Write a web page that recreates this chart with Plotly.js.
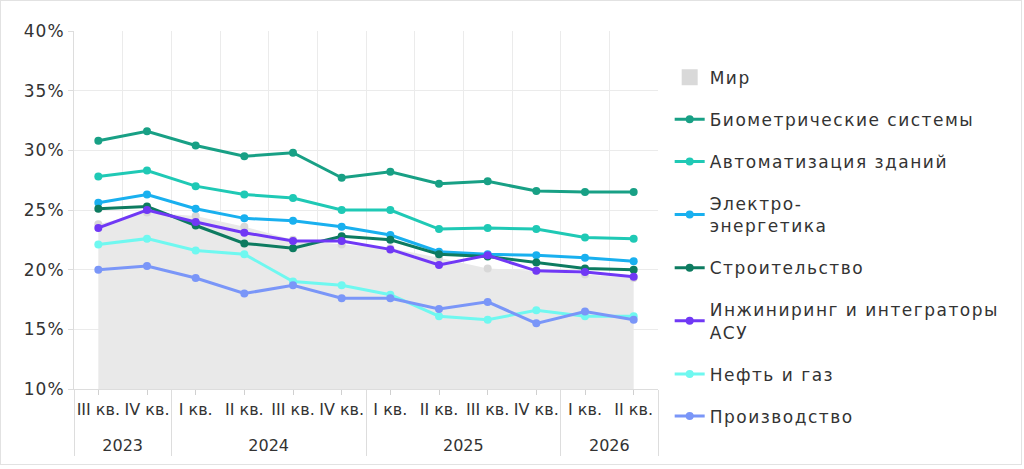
<!DOCTYPE html>
<html>
<head>
<meta charset="utf-8">
<script src="https://cdn.plot.ly/plotly-3.0.1.min.js"></script>
<style>
html, body { margin: 0; padding: 0; background: #ffffff; }
#chart { width: 1024px; height: 469px; position: absolute; left: 0; top: 0; }
#frame { position: absolute; left: 0; top: 0; width: 1020px; height: 463px; border: 1px solid #e2e2e2; pointer-events: none; }
.legendtext { letter-spacing: 1.5px; }
.ytick text { letter-spacing: 1px; }
</style>
</head>
<body>
<div id="chart"></div>
<div id="frame"></div>
<script>
// Category axes (2023 quarters carry a zero-width space so that the
// multicategory axis keeps the I..IV order inside later years)
var years = ['2023','2023','2024','2024','2024','2024','2025','2025','2025','2025','2026','2026'];
var quarters = ['III кв.\u200b','IV кв.\u200b','I кв.','II кв.','III кв.','IV кв.','I кв.','II кв.','III кв.','IV кв.','I кв.','II кв.'];

// Series (percent)
var world         = [23.8, 24.8, 24.5, 23.6, 22.5, 22.1, 21.8, 21.0, 20.1, 19.9, 19.6, 19.3];
var biometric     = [30.8, 31.6, 30.4, 29.5, 29.8, 27.7, 28.2, 27.2, 27.4, 26.6, 26.5, 26.5];
var buildingAuto  = [27.8, 28.3, 27.0, 26.3, 26.0, 25.0, 25.0, 23.4, 23.5, 23.4, 22.7, 22.6];
var power         = [25.6, 26.3, 25.1, 24.3, 24.1, 23.6, 22.9, 21.5, 21.3, 21.2, 21.0, 20.7];
var construction  = [25.1, 25.3, 23.7, 22.2, 21.8, 22.8, 22.5, 21.3, 21.1, 20.6, 20.1, 20.0];
var engineering   = [23.5, 25.0, 24.0, 23.1, 22.4, 22.4, 21.7, 20.4, 21.2, 19.9, 19.8, 19.4];
var oilGas        = [22.1, 22.6, 21.6, 21.3, 19.0, 18.7, 17.9, 16.1, 15.8, 16.6, 16.1, 16.1];
var manufacturing = [20.0, 20.3, 19.3, 18.0, 18.7, 17.6, 17.6, 16.7, 17.3, 15.5, 16.5, 15.8];

var seriesNames = ['Биометрические системы', 'Автоматизация зданий', 'Электро-<br>энергетика',
  'Строительство', 'Инжиниринг и интеграторы<br>АСУ', 'Нефть и газ', 'Производство'];
var seriesValues = [biometric, buildingAuto, power, construction, engineering, oilGas, manufacturing];
var seriesColors = ['#18a085', '#1fc9b5', '#19b0ef', '#0d7b60', '#7038f5', '#6ff8f0', '#7a96f8'];

// year row is pushed one line lower (blank first line)
var yearLabels = years.map(function (y) { return '\u00a0<br>' + y; });
var xCats = [yearLabels, quarters];
var traces = [];

// World: filled area (no legend), gray points, legend square
traces.push({
  type: 'scatter', x: xCats, y: world, mode: 'none', fill: 'tozeroy',
  fillcolor: '#e9e9e9', showlegend: false, legendgroup: 'g0', hoverinfo: 'skip'
});
traces.push({
  type: 'scatter', x: xCats, y: world, mode: 'markers',
  marker: { color: '#d8d8d8', size: 8 }, showlegend: false, legendgroup: 'g0', name: 'Мир'
});
traces.push({
  type: 'scatter', x: [[null],[null]], y: [null], mode: 'markers', name: 'Мир',
  marker: { symbol: 'square', color: '#d9d9d9', size: 16 }, legendgroup: 'g0', showlegend: true
});

for (var i = 0; i < seriesNames.length; i++) {
  traces.push({
    type: 'scatter', x: xCats, y: seriesValues[i], mode: 'lines+markers',
    name: seriesNames[i], legendgroup: 'g' + (i + 1),
    line: { color: seriesColors[i], width: 3 },
    marker: { color: seriesColors[i], size: 8 }
  });
}

// invisible trace for centre ticks
traces.push({
  type: 'scatter', x: xCats, y: world, mode: 'markers', xaxis: 'x2',
  marker: { opacity: 0 }, showlegend: false, hoverinfo: 'skip'
});

var fontFam = 'DejaVu Sans, sans-serif';
var layout = {
  width: 1024, height: 469,
  margin: { l: 74, r: 366, t: 31, b: 80 },
  paper_bgcolor: '#ffffff', plot_bgcolor: '#ffffff',
  font: { family: fontFam, size: 16, color: '#333333' },
  showlegend: true,
  legend: {
    x: 1.02, xanchor: 'left', y: 0.92, yanchor: 'top', maxheight: 440,
    font: { family: fontFam, size: 17, color: '#333333' },
    tracegroupgap: 17, bgcolor: 'rgba(0,0,0,0)'
  },
  xaxis: {
    type: 'multicategory', range: [-0.5, 11.5],
    showgrid: true, gridcolor: '#ebebeb', gridwidth: 1,
    tickson: 'boundaries', ticks: '', tickangle: 0, ticklabelstandoff: 6,
    showline: true, linecolor: '#dddddd', linewidth: 1,
    showdividers: true, dividercolor: '#dddddd', dividerwidth: 1,
    tickfont: { family: fontFam, size: 16, color: '#333333' },
    zeroline: false
  },
  xaxis2: {
    type: 'multicategory', overlaying: 'x', anchor: 'y', side: 'bottom',
    range: [-0.5, 11.5], showticklabels: false, showgrid: false,
    showdividers: false, showline: false,
    ticks: 'outside', ticklen: 5, tickcolor: '#d0d0d0', tickson: 'labels', zeroline: false
  },
  yaxis: {
    range: [10, 40], dtick: 5, tick0: 10, ticksuffix: '%',
    showgrid: true, gridcolor: '#ebebeb', gridwidth: 1,
    showline: true, linecolor: '#dddddd', linewidth: 1,
    ticks: 'outside', ticklen: 5, tickcolor: '#dddddd',
    tickfont: { family: fontFam, size: 17, color: '#333333' },
    zeroline: false
  }
};

Plotly.newPlot('chart', traces, layout, { displayModeBar: false, staticPlot: true });
</script>
</body>
</html>
